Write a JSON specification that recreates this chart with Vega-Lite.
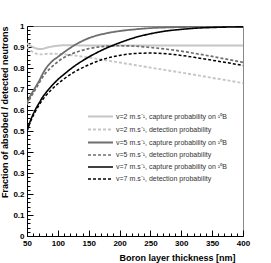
{
  "$schema": "https://vega.github.io/schema/vega-lite/v6.json",
  "width": 216,
  "height": 210,
  "autosize": "none",
  "padding": {"left": 27, "top": 26, "right": 28, "bottom": 27},
  "background": "white",
  "config": {
    "view": {"stroke": "#8a8a8a", "strokeWidth": 1},
    "font": "Liberation Sans"
  },
  "data": {
    "values": [
      {"x":50,"y":0.918,"s":"c2"},{"x":55,"y":0.907,"s":"c2"},{"x":60,"y":0.899,"s":"c2"},{"x":65,"y":0.893,"s":"c2"},{"x":70,"y":0.89,"s":"c2"},{"x":75,"y":0.891,"s":"c2"},{"x":80,"y":0.895,"s":"c2"},{"x":90,"y":0.902,"s":"c2"},{"x":100,"y":0.906,"s":"c2"},{"x":110,"y":0.908,"s":"c2"},{"x":125,"y":0.908,"s":"c2"},{"x":150,"y":0.907,"s":"c2"},{"x":200,"y":0.907,"s":"c2"},{"x":250,"y":0.907,"s":"c2"},{"x":300,"y":0.907,"s":"c2"},{"x":350,"y":0.907,"s":"c2"},{"x":400,"y":0.907,"s":"c2"},
      {"x":50,"y":0.9,"s":"d2"},{"x":55,"y":0.885,"s":"d2"},{"x":60,"y":0.875,"s":"d2"},{"x":65,"y":0.868,"s":"d2"},{"x":70,"y":0.865,"s":"d2"},{"x":75,"y":0.865,"s":"d2"},{"x":80,"y":0.867,"s":"d2"},{"x":90,"y":0.868,"s":"d2"},{"x":100,"y":0.867,"s":"d2"},{"x":110,"y":0.865,"s":"d2"},{"x":125,"y":0.86,"s":"d2"},{"x":150,"y":0.85,"s":"d2"},{"x":175,"y":0.838,"s":"d2"},{"x":200,"y":0.826,"s":"d2"},{"x":225,"y":0.814,"s":"d2"},{"x":250,"y":0.802,"s":"d2"},{"x":275,"y":0.79,"s":"d2"},{"x":300,"y":0.778,"s":"d2"},{"x":325,"y":0.766,"s":"d2"},{"x":350,"y":0.753,"s":"d2"},{"x":375,"y":0.741,"s":"d2"},{"x":400,"y":0.728,"s":"d2"},
      {"x":50,"y":0.635,"s":"c5"},{"x":55,"y":0.665,"s":"c5"},{"x":60,"y":0.69,"s":"c5"},{"x":65,"y":0.715,"s":"c5"},{"x":70,"y":0.74,"s":"c5"},{"x":75,"y":0.77,"s":"c5"},{"x":80,"y":0.795,"s":"c5"},{"x":90,"y":0.83,"s":"c5"},{"x":100,"y":0.853,"s":"c5"},{"x":110,"y":0.875,"s":"c5"},{"x":125,"y":0.905,"s":"c5"},{"x":150,"y":0.942,"s":"c5"},{"x":175,"y":0.963,"s":"c5"},{"x":200,"y":0.976,"s":"c5"},{"x":225,"y":0.984,"s":"c5"},{"x":250,"y":0.99,"s":"c5"},{"x":275,"y":0.993,"s":"c5"},{"x":300,"y":0.995,"s":"c5"},{"x":325,"y":0.996,"s":"c5"},{"x":350,"y":0.997,"s":"c5"},{"x":375,"y":0.998,"s":"c5"},{"x":400,"y":0.998,"s":"c5"},
      {"x":50,"y":0.625,"s":"d5"},{"x":55,"y":0.655,"s":"d5"},{"x":60,"y":0.68,"s":"d5"},{"x":65,"y":0.705,"s":"d5"},{"x":70,"y":0.73,"s":"d5"},{"x":75,"y":0.755,"s":"d5"},{"x":80,"y":0.775,"s":"d5"},{"x":90,"y":0.805,"s":"d5"},{"x":100,"y":0.83,"s":"d5"},{"x":110,"y":0.85,"s":"d5"},{"x":125,"y":0.87,"s":"d5"},{"x":150,"y":0.892,"s":"d5"},{"x":175,"y":0.903,"s":"d5"},{"x":200,"y":0.906,"s":"d5"},{"x":225,"y":0.904,"s":"d5"},{"x":250,"y":0.898,"s":"d5"},{"x":275,"y":0.89,"s":"d5"},{"x":300,"y":0.88,"s":"d5"},{"x":325,"y":0.868,"s":"d5"},{"x":350,"y":0.855,"s":"d5"},{"x":375,"y":0.841,"s":"d5"},{"x":400,"y":0.827,"s":"d5"},
      {"x":50,"y":0.5,"s":"c7"},{"x":55,"y":0.545,"s":"c7"},{"x":60,"y":0.58,"s":"c7"},{"x":65,"y":0.61,"s":"c7"},{"x":70,"y":0.635,"s":"c7"},{"x":75,"y":0.66,"s":"c7"},{"x":80,"y":0.68,"s":"c7"},{"x":90,"y":0.715,"s":"c7"},{"x":100,"y":0.745,"s":"c7"},{"x":110,"y":0.77,"s":"c7"},{"x":125,"y":0.805,"s":"c7"},{"x":150,"y":0.852,"s":"c7"},{"x":175,"y":0.89,"s":"c7"},{"x":200,"y":0.92,"s":"c7"},{"x":225,"y":0.945,"s":"c7"},{"x":250,"y":0.963,"s":"c7"},{"x":275,"y":0.976,"s":"c7"},{"x":300,"y":0.984,"s":"c7"},{"x":325,"y":0.99,"s":"c7"},{"x":350,"y":0.993,"s":"c7"},{"x":375,"y":0.995,"s":"c7"},{"x":400,"y":0.996,"s":"c7"},
      {"x":50,"y":0.5,"s":"d7"},{"x":55,"y":0.54,"s":"d7"},{"x":60,"y":0.572,"s":"d7"},{"x":65,"y":0.6,"s":"d7"},{"x":70,"y":0.625,"s":"d7"},{"x":75,"y":0.647,"s":"d7"},{"x":80,"y":0.667,"s":"d7"},{"x":90,"y":0.698,"s":"d7"},{"x":100,"y":0.725,"s":"d7"},{"x":110,"y":0.748,"s":"d7"},{"x":125,"y":0.778,"s":"d7"},{"x":150,"y":0.815,"s":"d7"},{"x":175,"y":0.843,"s":"d7"},{"x":200,"y":0.86,"s":"d7"},{"x":225,"y":0.869,"s":"d7"},{"x":250,"y":0.871,"s":"d7"},{"x":275,"y":0.868,"s":"d7"},{"x":300,"y":0.86,"s":"d7"},{"x":325,"y":0.849,"s":"d7"},{"x":350,"y":0.837,"s":"d7"},{"x":375,"y":0.825,"s":"d7"},{"x":400,"y":0.812,"s":"d7"}
    ]
  },
  "mark": {"type": "line", "interpolate": "monotone", "clip": true},
  "encoding": {
    "x": {
      "field": "x", "type": "quantitative",
      "scale": {"domain": [50, 400], "nice": false, "zero": false},
      "axis": {
        "title": "Boron layer thickness [nm]",
        "titleAnchor": "end", "titleAlign": "right", "titleFontSize": 9, "titleFontWeight": "bold", "titleColor": "black",
        "titlePadding": 3, "titleX": 208,
        "values": [50,60,70,80,90,100,110,120,130,140,150,160,170,180,190,200,210,220,230,240,250,260,270,280,290,300,310,320,330,340,350,360,370,380,390,400],
        "labelExpr": "datum.value % 50 === 0 ? datum.label : ''",
        "labelOverlap": false, "labelFlush": false,
        "labelFontSize": 8, "labelFontWeight": "bold", "labelColor": "black",
        "tickSize": {"condition": {"test": "datum.value % 50 === 0", "value": -6}, "value": -3},
        "labelPadding": 9,
        "tickColor": "black", "domainColor": "black", "grid": false
      }
    },
    "y": {
      "field": "y", "type": "quantitative",
      "scale": {"domain": [0, 1], "nice": false},
      "axis": {
        "title": "Fraction of absobed / detected neutrons",
        "titleAnchor": "end", "titleFontSize": 9, "titleFontWeight": "bold", "titleColor": "black",
        "titlePadding": 3,
        "values": [0,0.02,0.04,0.06,0.08,0.1,0.12,0.14,0.16,0.18,0.2,0.22,0.24,0.26,0.28,0.3,0.32,0.34,0.36,0.38,0.4,0.42,0.44,0.46,0.48,0.5,0.52,0.54,0.56,0.58,0.6,0.62,0.64,0.66,0.68,0.7,0.72,0.74,0.76,0.78,0.8,0.82,0.84,0.86,0.88,0.9,0.92,0.94,0.96,0.98,1],
        "labelExpr": "abs(datum.value*10 - round(datum.value*10)) < 0.001 ? format(datum.value, '~g') : ''",
        "labelOverlap": false, "labelFlush": false,
        "labelFontSize": 8, "labelFontWeight": "bold", "labelColor": "black",
        "tickSize": {"condition": {"test": "abs(datum.value*10 - round(datum.value*10)) < 0.001", "value": -6}, "value": -3},
        "labelPadding": 9,
        "tickColor": "black", "domainColor": "black", "grid": false
      }
    },
    "detail": {"field": "s"},
    "color": {
      "field": "s", "type": "nominal",
      "scale": {"domain": ["c2","d2","c5","d5","c7","d7"], "range": ["#c6c6c6","#c6c6c6","#6e6e6e","#6e6e6e","#000000","#000000"]},
      "legend": {
        "orient": "none", "legendX": 69, "legendY": 86,
        "title": null,
        "symbolType": "M-4,0H4", "symbolSize": 39,
        "labelFontSize": 7, "labelColor": "#333333", "labelOffset": 11,
        "rowPadding": 4,
        "labelExpr": "{'c2':'v=2 m.s\u207b\u00b9, capture probability on  \u00b9\u2070B','d2':'v=2 m.s\u207b\u00b9, detection probability','c5':'v=5 m.s\u207b\u00b9, capture probability on  \u00b9\u2070B','d5':'v=5 m.s\u207b\u00b9, detection probability','c7':'v=7 m.s\u207b\u00b9, capture probability on  \u00b9\u2070B','d7':'v=7 m.s\u207b\u00b9, detection probability'}[datum.value]"
      }
    },
    "strokeDash": {
      "field": "s", "type": "nominal",
      "scale": {"domain": ["c2","d2","c5","d5","c7","d7"], "range": [[1,0],[3,2],[1,0],[3,2],[1,0],[3,2]]},
      "legend": null
    },
    "strokeWidth": {
      "field": "s", "type": "nominal",
      "scale": {"domain": ["c2","d2","c5","d5","c7","d7"], "range": [2,1.5,2,1.5,2.5,2]},
      "legend": null
    }
  }
}
